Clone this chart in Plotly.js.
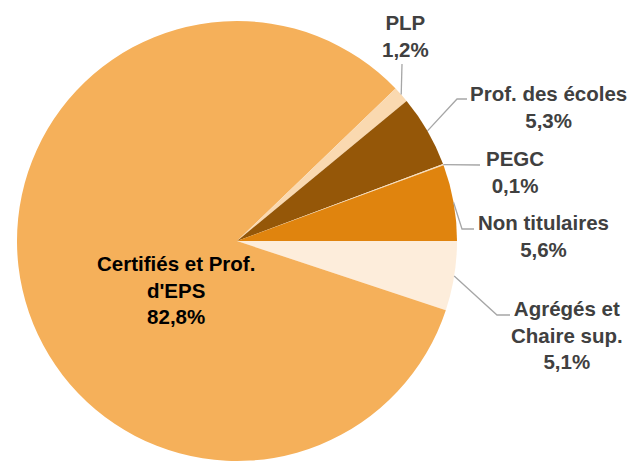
<!DOCTYPE html>
<html>
<head>
<meta charset="utf-8">
<script src="https://cdn.plot.ly/plotly-3.0.1.min.js"></script>
<style>
html,body{margin:0;padding:0;background:#fff;}
#chart{width:630px;height:461px;}
</style>
</head>
<body>
<div id="chart"></div>
<script>
// Data (clockwise from 3 o'clock)
const categories = ["Agrégés et Chaire sup.", "Certifiés et Prof. d'EPS", "PLP", "Prof. des écoles", "PEGC", "Non titulaires"];
const labelTexts = ["Agrégés et<br>Chaire sup.", "Certifiés et Prof.<br>d'EPS", "PLP", "Prof. des écoles", "PEGC", "Non titulaires"];
const shares = [5.1, 82.8, 1.2, 5.3, 0.1, 5.6];
const colors = ["#FDEDDB", "#F5B05A", "#FAD9B0", "#955708", "#F7DDBB", "#E0840E"];

const W = 630, H = 461;
const dom = {x: [17 / W, 457 / W], y: [0, 440 / H]};

// Label layout (pixel positions of text centres and leader-line elbows)
const labelPos = [
  {x: 567, y: 335, elbow: [[497, 315], [510, 315]]},
  {x: 176, y: 290, inside: true},
  {x: 405, y: 36, elbow: [[402, 64]]},
  {x: 548, y: 107, elbow: [[457, 99], [467, 99]]},
  {x: 515, y: 172, elbow: [[480, 165]]},
  {x: 543, y: 236, elbow: [[462, 229], [474, 229]]}
];

function fmt(v) { return v.toFixed(1).replace('.', ','); }

// Pie geometry derived from the domain
const cx = (dom.x[0] + dom.x[1]) / 2 * W;
const cy = (1 - (dom.y[0] + dom.y[1]) / 2) * H;
const R = Math.min((dom.x[1] - dom.x[0]) * W, (dom.y[1] - dom.y[0]) * H) / 2;
const total = shares.reduce((a, b) => a + b, 0);

const annotations = [];
const shapes = [];
let cum = 0;
shares.forEach((v, i) => {
  const mid = -(cum + v / 2) / total * 2 * Math.PI; // clockwise from 3 o'clock
  cum += v;
  const lp = labelPos[i];
  annotations.push({
    xref: 'paper', yref: 'paper',
    x: lp.x / W, y: 1 - lp.y / H,
    xanchor: 'center', yanchor: 'middle', align: 'center',
    showarrow: false,
    text: labelTexts[i] + '<br>' + fmt(v) + '%',
    font: {family: 'Liberation Sans, Arial, sans-serif', size: 20.5, color: lp.inside ? '#000000' : '#404040', weight: 'bold'}
  });
  if (!lp.inside) {
    const sx = cx + R * Math.cos(mid), sy = cy - R * Math.sin(mid);
    let path = 'M' + (sx / W) + ',' + (1 - sy / H);
    lp.elbow.forEach(p => { path += ' L' + (p[0] / W) + ',' + (1 - p[1] / H); });
    shapes.push({type: 'path', xref: 'paper', yref: 'paper', path: path,
      line: {color: '#A6A6A6', width: 1.3}});
  }
});

const trace = {
  type: 'pie',
  labels: categories,
  values: shares,
  sort: false,
  direction: 'clockwise',
  rotation: 90,
  textinfo: 'none',
  hoverinfo: 'label+percent',
  marker: {colors: colors, line: {width: 0}},
  domain: dom,
  showlegend: false
};

const layout = {
  width: W, height: H,
  margin: {l: 0, r: 0, t: 0, b: 0},
  paper_bgcolor: '#ffffff',
  showlegend: false,
  annotations: annotations,
  shapes: shapes
};

Plotly.newPlot('chart', [trace], layout, {displayModeBar: false, staticPlot: true});
</script>
</body>
</html>
